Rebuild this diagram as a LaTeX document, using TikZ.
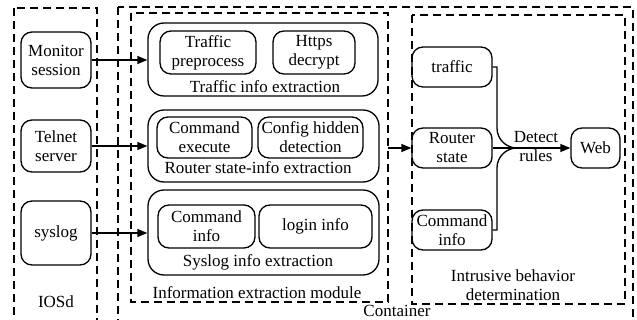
\documentclass[tikz,border=0pt]{standalone}
\usepackage{fontspec}
\setmainfont{Liberation Serif}
\usetikzlibrary{arrows.meta}
\begin{document}
\begin{tikzpicture}[x=1pt,y=-1pt,
  font=\fontsize{17}{19}\selectfont,
  every node/.style={inner sep=0pt, align=center},
  frame/.style={draw, line width=1.3pt, dash pattern=on 8pt off 5pt},
  rbox/.style={draw, line width=1.3pt, rounded corners=11pt},
  bigbox/.style={draw, line width=1.3pt, rounded corners=16pt},
  conn/.style={line width=1.3pt},
  arr/.style={conn, -{Triangle[length=10pt,width=8pt]}}
]
\useasboundingbox (0,0) rectangle (637,320);

% dashed frames
\draw[frame] (14,8) rectangle (97,340);
\draw[frame] (118,7) rectangle (633,340);
\draw[frame] (131,13) rectangle (388,302);
\draw[frame] (412,15) rectangle (625,304);

% IOSd sources
\node[rbox, minimum width=70pt, minimum height=56pt] (mon) at (56,60) {Monitor\\session};
\node[rbox, minimum width=70pt, minimum height=52pt] (tel) at (56,146) {Telnet\\server};
\node[rbox, minimum width=70pt, minimum height=64pt] (sys) at (56,233) {syslog};

% extraction groups
\node[bigbox, minimum width=230pt, minimum height=73pt] (trafbox) at (263,59.5) {};
\node[rbox, minimum width=96pt, minimum height=43pt] (pre) at (208,52.5) {Traffic\\preprocess};
\node[rbox, minimum width=82pt, minimum height=43pt] (https) at (314,52.5) {Https\\decrypt};
\node (traflbl) at (265,87) {Traffic info extraction};

\node[bigbox, minimum width=231pt, minimum height=72pt] (routbox) at (263.5,146) {};
\node[rbox, minimum width=95pt, minimum height=41pt] (cmdexe) at (204.5,137.5) {Command\\execute};
\node[rbox, minimum width=105pt, minimum height=41pt] (cfg) at (310.5,137.5) {Config hidden\\detection};
\node (routlbl) at (258,168) {Router state-info extraction};

\node[bigbox, minimum width=231pt, minimum height=85pt] (sysbox) at (263.5,232.5) {};
\node[rbox, minimum width=97pt, minimum height=43pt] (cmdinfo) at (206.5,226.5) {Command\\info};
\node[rbox, minimum width=113pt, minimum height=43pt] (login) at (315.5,226.5) {login info};
\node (syslbl) at (258,262) {Syslog info extraction};

\node (modlbl) at (257,293) {Information extraction module};
\node (iosdlbl) at (56,302) {IOSd};
\node (contlbl) at (397,311) {Container};

% intrusive behavior determination
\node[rbox, minimum width=80pt, minimum height=40pt] (traffic) at (452,67) {traffic};
\node[rbox, minimum width=80pt, minimum height=40pt] (rstate) at (452,148) {Router\\state};
\node[rbox, minimum width=80pt, minimum height=40pt] (cinfo) at (452,230) {Command\\info};
\node[rbox, minimum width=49pt, minimum height=40pt] (web) at (595.5,148) {Web};
\node (intlbl) at (513,285) {Intrusive behavior\\determination};
\node (detlbl) at (536,147) {Detect\\rules};

\coordinate (j) at (517,148);

% connectors
\draw[arr] (mon.east) -- (mon.east -| trafbox.west);
\draw[arr] (tel.east) -- (tel.east -| routbox.west);
\draw[arr] (sys.east) -- (sys.east -| sysbox.west);
\draw[arr] (388,148) -- (rstate.west);

\draw[conn] (traffic.east) -- (497,67) -- (497,128) to[out=-90,in=180] (j);
\draw[conn] (cinfo.east) -- (497,230) -- (497,168) to[out=90,in=180] (j);
\draw[conn] (rstate.east) -- (j);
\draw[arr] (j) -- (web.west);
\end{tikzpicture}
\end{document}
